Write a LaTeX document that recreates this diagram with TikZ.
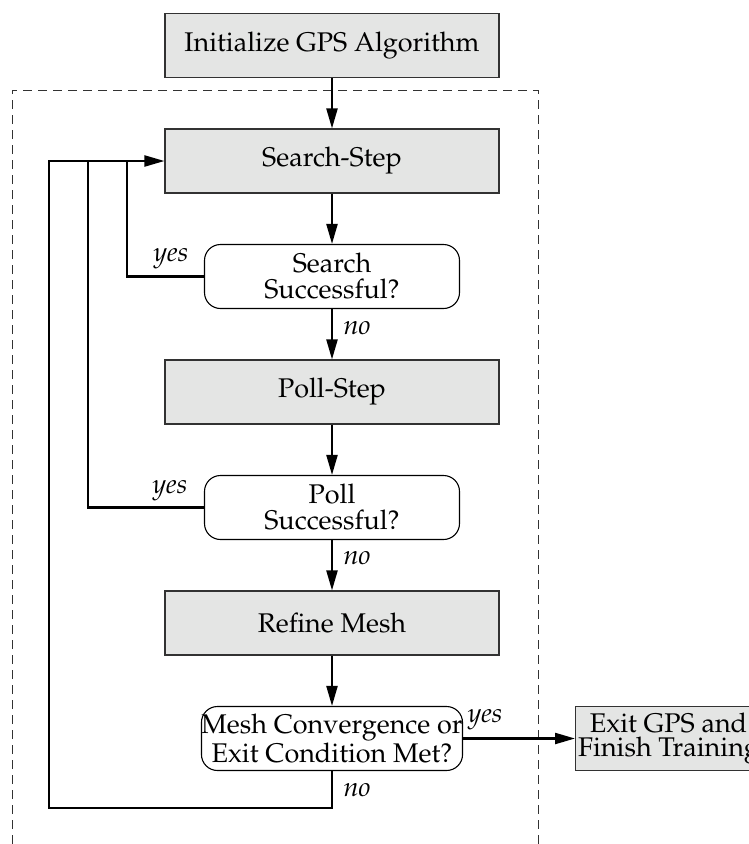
\documentclass[tikz,border=0pt]{standalone}
\usepackage[T1]{fontenc}
\usepackage{mathpazo}
\usetikzlibrary{arrows.meta}
\definecolor{boxgray}{RGB}{228,229,228}
\definecolor{framegray}{RGB}{50,50,50}
\begin{document}
\begin{tikzpicture}[x=1pt,y=-1pt,
  box/.style={draw=framegray, line width=1.1pt, fill=boxgray, minimum width=334pt, minimum height=64pt, inner sep=0pt, font=\fontsize{27}{28}\selectfont},
  dec/.style={draw=black, line width=1.1pt, rounded corners=16pt, fill=white, minimum width=255pt, minimum height=64pt, inner sep=0pt, align=center, font=\fontsize{27}{26}\selectfont},
  conn/.style={line width=2.2pt, -{Triangle[length=20pt,width=11pt]}},
  link/.style={line width=2.2pt},
  lab/.style={font=\fontsize{27}{27}\selectfont\itshape, inner sep=0pt},
  frame/.style={framegray, line width=1pt, dash pattern=on 9pt off 6pt}]
\useasboundingbox (0,0) rectangle (748,844);
\draw[frame] (12,844) -- (12,90) -- (538,90) -- (538,844);
\node[box] (init) at (332,45.5) {Initialize GPS Algorithm};
\node[box] (search) at (332,161) {Search-Step};
\node[dec] (sdec) at (332,276.5) {Search\\Successful?};
\node[box] (poll) at (332,392) {Poll-Step};
\node[dec] (pdec) at (332,507.5) {Poll\\Successful?};
\node[box] (refine) at (332,623) {Refine Mesh};
\node[dec] (edec) at (332,738.5) {Mesh Convergence or\\Exit Condition Met?};
\node[box, minimum width=186pt, anchor=west, align=center, font=\fontsize{27}{23.5}\selectfont] (exit) at (575,738.5) {Exit GPS and\\Finish Training};
\coordinate (j1) at (127,161);
\coordinate (j2) at (88,161);
\coordinate (j3) at (49,161);
\coordinate (bl) at (49,808);
\draw[conn] (init) -- (search);
\draw[conn] (search) -- (sdec);
\draw[conn] (sdec) -- (poll);
\draw[conn] (poll) -- (pdec);
\draw[conn] (pdec) -- (refine);
\draw[conn] (refine) -- (edec);
\draw[conn] (edec) -- (exit);
\draw[link] (sdec.west) -| (j1);
\draw[link] (pdec.west) -| (j2);
\draw[conn] (edec.south) |- (bl) -- (j3) -- (search.west);
\node[lab] (ys) at (171,258) {yes};
\node[lab] (yp) at (170,490) {yes};
\node[lab] (ye) at (485,719) {yes};
\node[lab] (ns) at (357,328) {no};
\node[lab] (np) at (357,558) {no};
\node[lab] (ne) at (357,790) {no};
\end{tikzpicture}
\end{document}
